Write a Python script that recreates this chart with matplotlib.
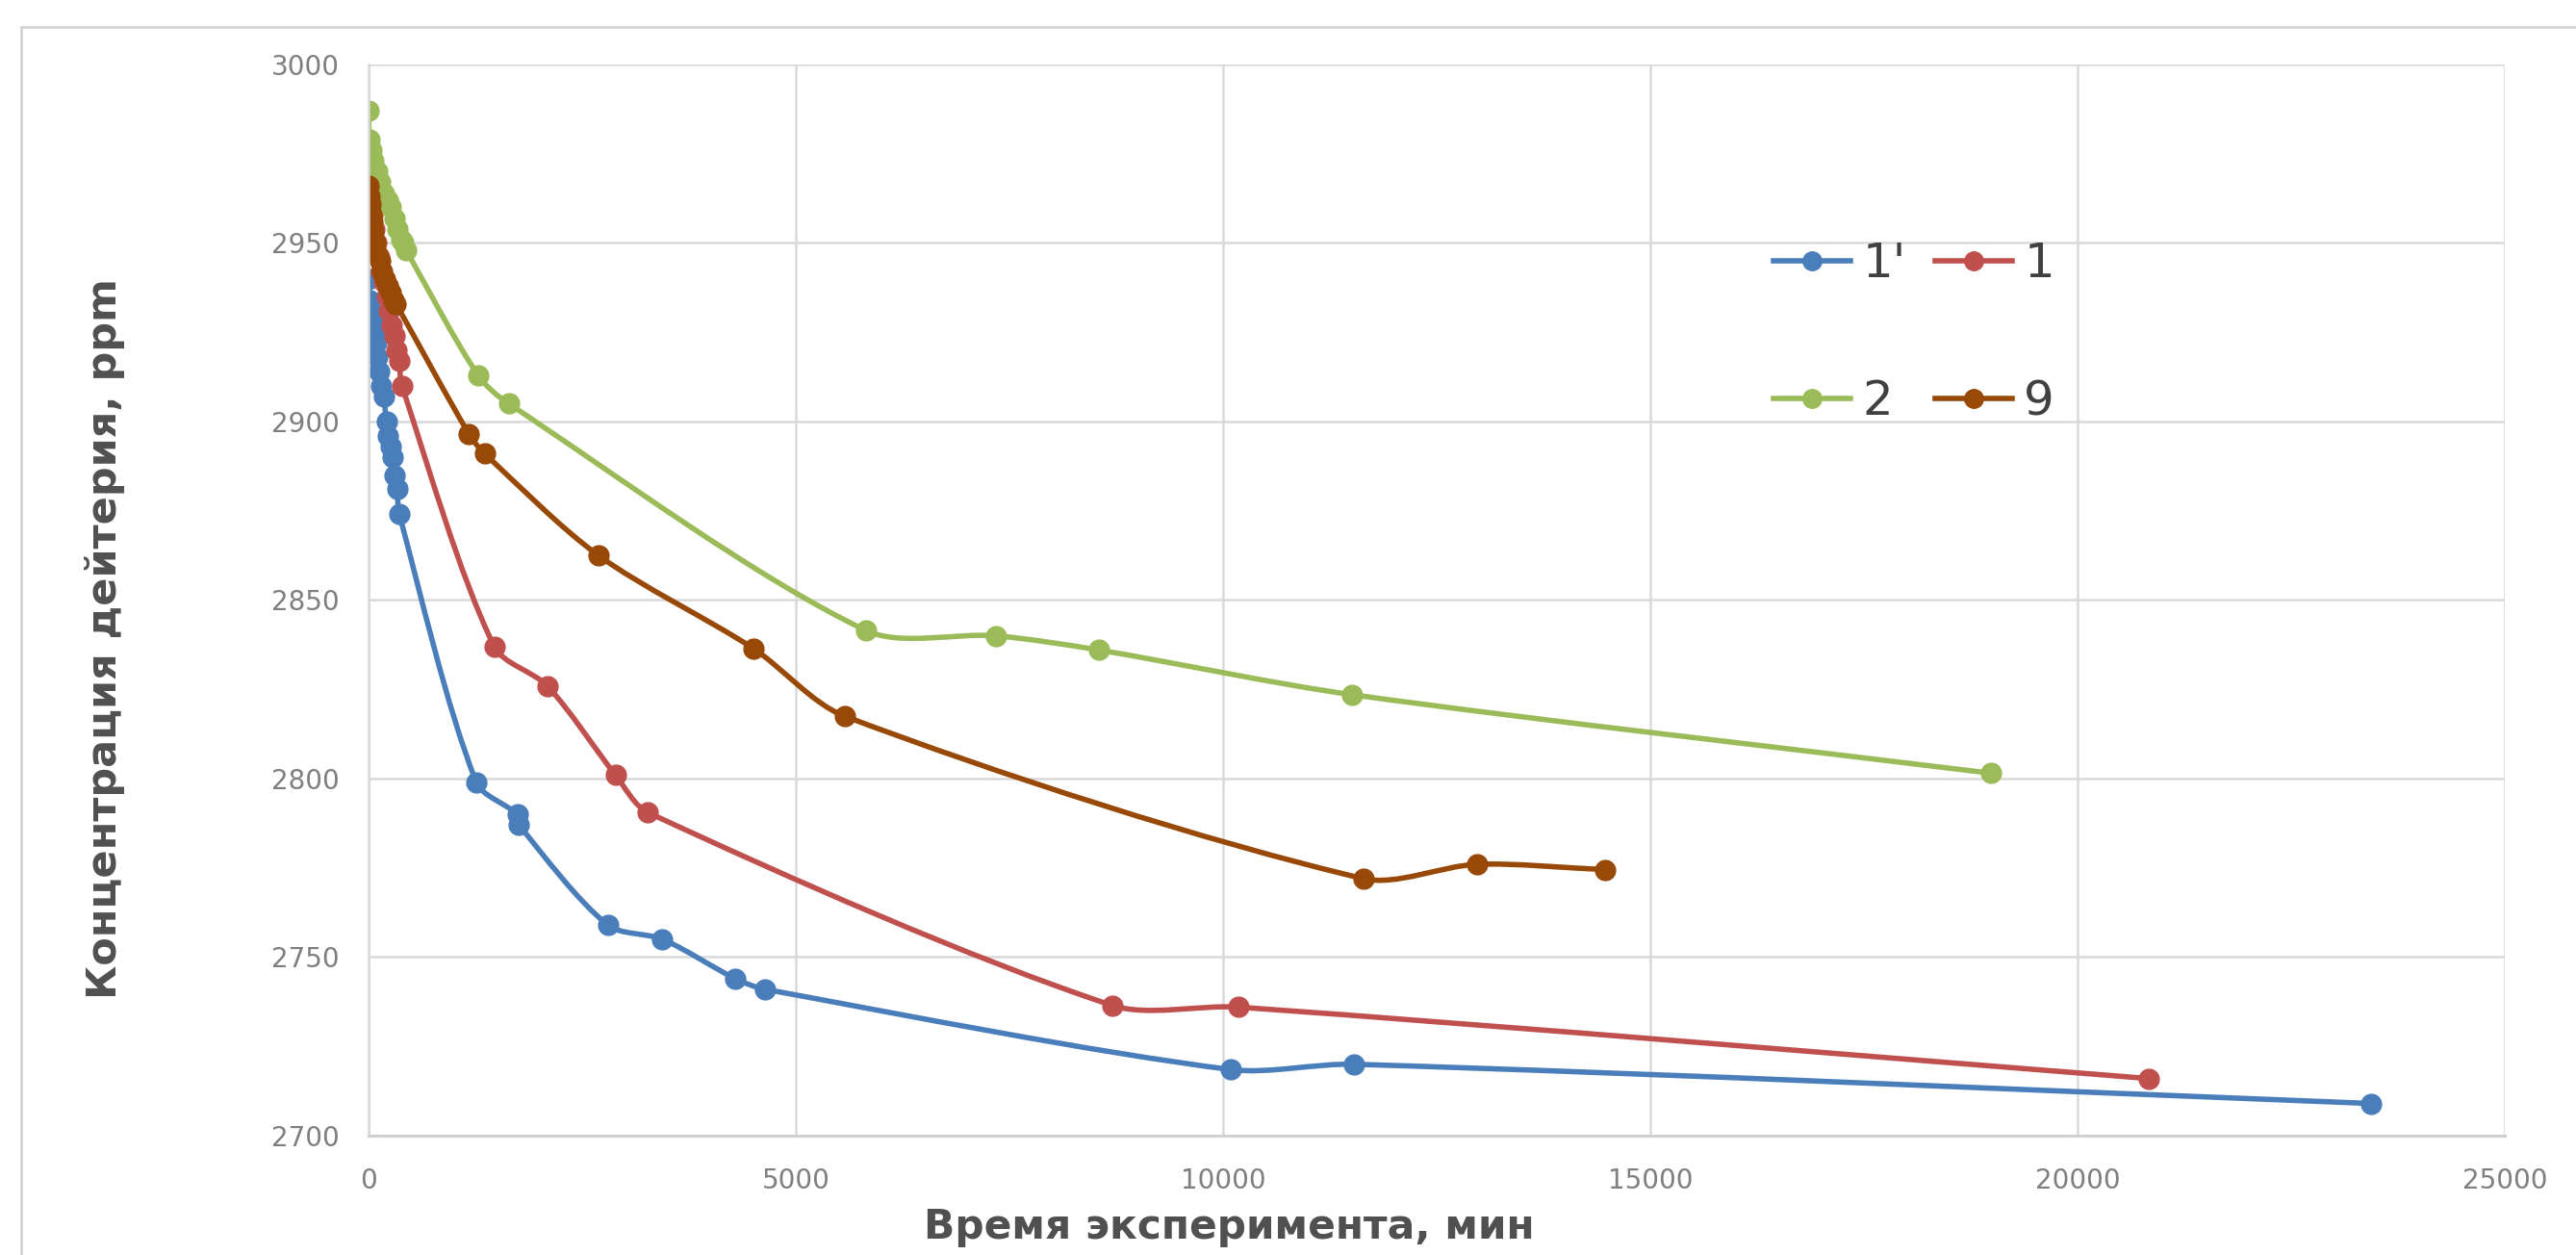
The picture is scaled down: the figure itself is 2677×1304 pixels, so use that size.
import matplotlib.pyplot as plt
from matplotlib.path import Path
from matplotlib.patches import PathPatch, Rectangle
from matplotlib.lines import Line2D

# time, min / deuterium concentration, ppm
t_1p = [0, 12, 25, 45, 65, 85, 105, 125, 150, 175, 210, 230, 260, 285, 305, 335, 360,
        1260, 1740, 1760, 2800, 3440, 4290, 4640, 10090, 11530, 23440]
c_1p = [2940, 2934, 2931, 2928, 2925, 2922, 2918, 2914, 2910, 2907, 2900, 2896, 2893, 2890, 2885, 2881, 2874,
        2799, 2790, 2787, 2759, 2755, 2744, 2741, 2718.5, 2720, 2709]

t_1 = [0, 15, 30, 50, 70, 95, 120, 150, 180, 210, 240, 270, 300, 330, 360, 390,
       1470, 2090, 2890, 3270, 8700, 10180, 20830]
c_1 = [2972, 2966, 2962, 2958, 2954, 2950, 2946, 2942, 2939, 2935, 2931, 2927, 2924, 2920, 2917, 2910,
       2837, 2826, 2801, 2790.5, 2736.5, 2736, 2716]

t_2 = [0, 10, 30, 60, 100, 140, 180, 220, 260, 300, 340, 380, 410, 440,
       1280, 1640, 5820, 7340, 8550, 11510, 18990]
c_2 = [2987, 2979, 2976, 2973, 2970, 2967, 2964, 2962, 2960, 2957, 2954, 2951, 2950, 2948,
       2913, 2905, 2841.5, 2840, 2836, 2823.5, 2801.5]

t_9 = [0, 10, 20, 30, 45, 60, 80, 105, 130, 160, 190, 220, 255, 290, 320,
       1175, 1360, 2690, 4500, 5570, 11640, 12970, 14470]
c_9 = [2966, 2963, 2961, 2958, 2956, 2953, 2950, 2947, 2945, 2942, 2940, 2938, 2936, 2934, 2933,
       2896.5, 2891, 2862.5, 2836.5, 2817.5, 2772, 2776, 2774.5]

labels = ["1'", "1", "2", "9"]
colors = ['#4A7EBB', '#C0504D', '#9BBB59', '#984807']

SX = 2220 / 25000   # px per minute
SY = 1113 / 300     # px per ppm


def smooth_path(x, y, k=0.3):
    # Excel-like smoothed line: cubic Bezier, tangents weighted by segment length on screen
    n = len(x)
    seg = [((SX * (x[i + 1] - x[i])) ** 2 + (SY * (y[i + 1] - y[i])) ** 2) ** 0.5 for i in range(n - 1)]

    def tangent(i):
        a = max(i - 1, 0)
        b = min(i + 1, n - 1)
        return x[b] - x[a], y[b] - y[a]

    def total(i):
        return (seg[i - 1] if i > 0 else 0) + (seg[i] if i < n - 1 else 0)

    verts = [(x[0], y[0])]
    codes = [Path.MOVETO]
    for i in range(n - 1):
        tx, ty = tangent(i)
        f = k * seg[i] / total(i)
        c1 = (x[i] + tx * f, y[i] + ty * f)
        tx, ty = tangent(i + 1)
        f = k * seg[i] / total(i + 1)
        c2 = (x[i + 1] - tx * f, y[i + 1] - ty * f)
        verts += [c1, c2, (x[i + 1], y[i + 1])]
        codes += [Path.CURVE4] * 3
    return Path(verts, codes)


fig = plt.figure(figsize=(26.77, 13.04), dpi=100)
ax = fig.add_axes([383 / 2677, 1 - 1180 / 1304, 2220 / 2677, 1113 / 1304])

series = [(t_1p, c_1p), (t_1, c_1), (t_2, c_2), (t_9, c_9)]
handles = []
for (t, c), lab, col in zip(series, labels, colors):
    ax.add_patch(PathPatch(smooth_path(t, c), facecolor='none', edgecolor=col, lw=4.0,
                           capstyle='round', joinstyle='round'))
    ax.plot(t, c, 'o', color=col, ms=15, mec=col)
    handles.append(Line2D([0], [0], color=col, lw=4.0, marker='o', ms=14))

ax.set_xlim(0, 25000)
ax.set_ylim(2700, 3000)
ax.set_xticks(range(0, 25001, 5000))
ax.set_yticks(range(2700, 3001, 50))
ax.grid(True, color='#D9D9D9', lw=1.8)
ax.set_axisbelow(True)
for s in ['top', 'right']:
    ax.spines[s].set_visible(False)
ax.spines['left'].set_color('#D9D9D9')
ax.spines['left'].set_linewidth(1.8)
ax.spines['bottom'].set_color('#D0D0D0')
ax.spines['bottom'].set_linewidth(2.2)
ax.tick_params(length=0, labelsize=20, labelcolor='#7F7F7F')
ax.tick_params(axis='x', pad=24)
ax.tick_params(axis='y', pad=22)

fig.text(1277 / 2677, 1 - 1275 / 1304, 'Время эксперимента, мин', ha='center', va='center',
         fontsize=30.5, fontweight='bold', color='#505050')
fig.text(109 / 2677, 1 - 664 / 1304, 'Концентрация дейтерия, ppm', ha='center', va='center',
         rotation=90, fontsize=31, fontweight='bold', color='#505050')

# legend: columns (1', 2) and (1, 9)
order = [0, 2, 1, 3]
ax.legend([handles[i] for i in order], [labels[i] for i in order], ncol=2, frameon=False,
          loc='upper left', bbox_to_anchor=(1798 / 2677, 1 - 205 / 1304), bbox_transform=fig.transFigure,
          fontsize=36, handlelength=1.6, handletextpad=0.25, columnspacing=0.6, labelspacing=1.9,
          labelcolor='#404040')

# outer chart frame
fig.patches.append(Rectangle((22 / 2677, -0.1), 1.2, 1.1 - 28 / 1304, transform=fig.transFigure,
                             fill=False, edgecolor='#D5D5D5', lw=2))

fig.savefig('out.png', dpi=100)
